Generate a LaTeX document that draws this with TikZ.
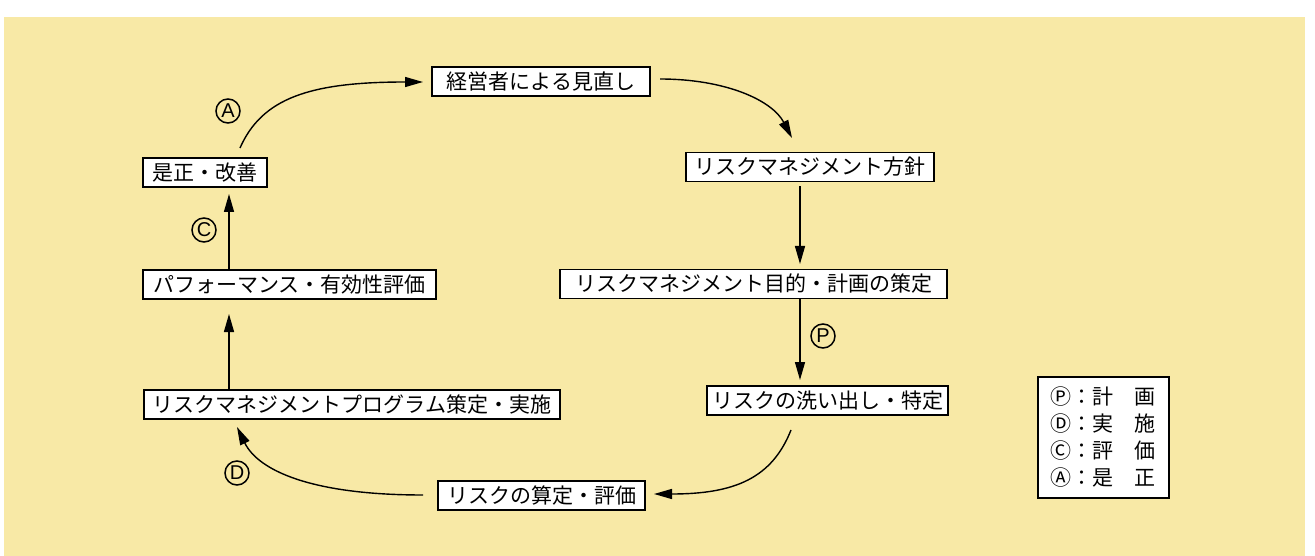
\documentclass[tikz,border=0pt]{standalone}
\usepackage{fontspec}
\setmainfont{Noto Sans CJK JP}
\newfontfamily\lsans{Liberation Sans}
\usetikzlibrary{arrows.meta}
\definecolor{paper}{RGB}{248,233,166}
\tikzset{
 box/.style={draw, line width=1.5pt, fill=white, inner sep=0pt, minimum height=29pt, font=\fontsize{21}{21}\selectfont, anchor=center},
 arr/.style={line width=1.4pt, -{Triangle[length=18pt,width=10pt]}},
 circlabel/.style={draw, circle, line width=1.5pt, minimum size=24pt, inner sep=0pt, font=\lsans\fontsize{20}{20}\selectfont},
 legrow/.style={anchor=west, inner sep=0pt, font=\fontsize{21}{21}\selectfont}
}
\begin{document}
\begin{tikzpicture}[x=1pt,y=-1pt]
\useasboundingbox (0,0) rectangle (1315,556);
\fill[white] (0,0) rectangle (1315,556);
\fill[paper] (4,17) rectangle (1305,556);

\node[box, minimum width=218pt] (rev) at (541,81.5) {経営者による見直し};
\node[box, minimum width=248pt] (pol) at (810,167) {リスクマネジメント方針};
\node[box, minimum width=387pt] (obj) at (753.5,284) {リスクマネジメント目的・計画の策定};
\node[box, minimum width=241pt] (ident) at (827.5,400.5) {リスクの洗い出し・特定};
\node[box, minimum width=207pt] (assess) at (541.5,495.5) {リスクの算定・評価};
\node[box, minimum width=416pt] (prog) at (352,404.5) {リスクマネジメントプログラム策定・実施};
\node[box, minimum width=293pt] (perf) at (289.5,284.5) {パフォーマンス・有効性評価};
\node[box, minimum width=124pt] (corr) at (205,172.5) {是正・改善};

\coordinate (a1s) at (240,148);
\coordinate (a1e) at (423,82);
\coordinate (a2s) at (660,79);
\coordinate (a2e) at (792,138);
\coordinate (a5s) at (791,430);
\coordinate (a5e) at (654,494);
\coordinate (a6s) at (423,495);
\coordinate (a6e) at (237,427);

\draw[arr] (a1s) .. controls (262,98) and (310,82) .. (a1e);
\draw[arr] (a2s) .. controls (725,79) and (772,100) .. (a2e);
\draw[arr] (pol.south -| 800,0) ++(0,4) -- (800,264);
\draw[arr] (obj.south -| 800,0) -- (800,380);
\draw[arr] (a5s) .. controls (772,478) and (735,494) .. (a5e);
\draw[arr] (a6s) .. controls (310,495) and (258,470) .. (a6e);
\draw[arr] (prog.north -| 229,0) -- (229,314);
\draw[arr] (perf.north -| 229,0) -- (229,194);

\node[circlabel] (cA) at (228,111) {A};
\node[circlabel] (cC) at (204,230) {C};
\node[circlabel] (cP) at (823,336) {P};
\node[circlabel] (cD) at (237,473) {D};

\node[draw, line width=1.4pt, fill=white, minimum width=131pt, minimum height=121pt, inner sep=0pt] (legend) at (1103.5,437.5) {};
\node[legrow] (l1) at (1050,397) {Ⓟ：計　画};
\node[legrow] (l2) at (1050,424) {Ⓓ：実　施};
\node[legrow] (l3) at (1050,451) {Ⓒ：評　価};
\node[legrow] (l4) at (1050,478) {Ⓐ：是　正};
\end{tikzpicture}
\end{document}
